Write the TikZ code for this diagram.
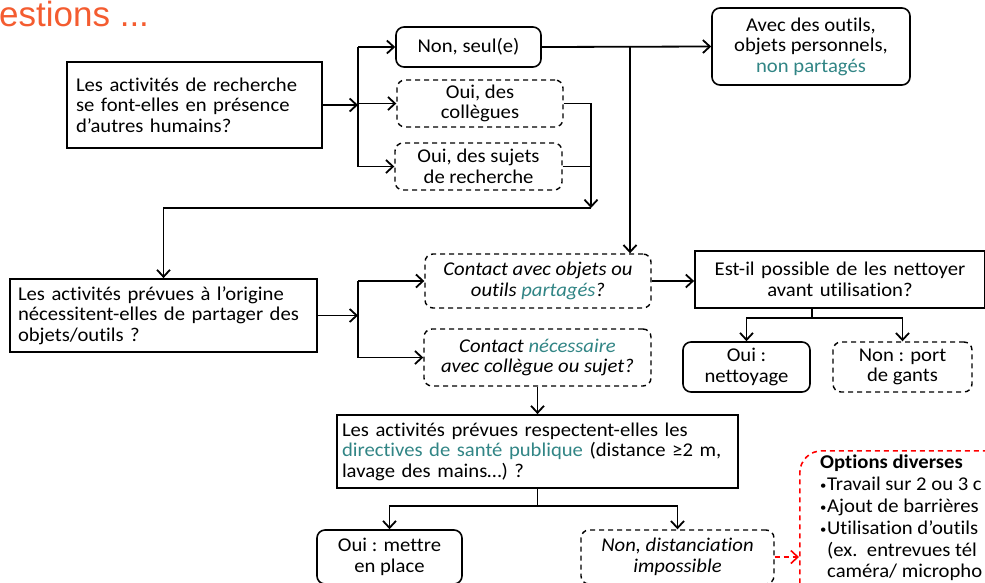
\documentclass[tikz,border=0pt]{standalone}
\usepackage{fontspec}
\setmainfont{Carlito}[FakeStretch=1.06, Ligatures=NoCommon]
\newfontfamily\titleFont{Liberation Sans}
\usetikzlibrary{arrows.meta}
\definecolor{connectorLineColor}{RGB}{0,0,0}
\definecolor{tealTextColor}{RGB}{49,133,133}
\definecolor{titleTextColor}{RGB}{244,92,48}
\definecolor{optionLineColor}{RGB}{255,0,0}
\newcommand{\optionBullet}{\makebox[7pt][l]{\raisebox{1pt}{\fontsize{12}{12}\selectfont•}}}
\tikzset{
	questionBox/.style = {
		draw, line width=1.8pt, inner xsep=9pt, inner ysep=0pt, align=left,
		font=\fontsize{19.5}{20.5}\selectfont
	},
	answerBox/.style = {
		draw, line width=1.6pt, rounded corners=8pt, inner sep=0pt, align=center,
		font=\fontsize{19.5}{20.5}\selectfont
	},
	dashedAnswer/.style = {
		answerBox, line width=1.4pt, dash pattern=on 5pt off 4pt
	},
	italicAnswer/.style = {
		dashedAnswer, font=\fontsize{19.5}{20.5}\selectfont\itshape
	},
	connectorLine/.style = {
		line width=1.8pt, draw = connectorLineColor
	},
	optionLine/.style = {
		line width=1.6pt, draw = optionLineColor, dash pattern=on 5pt off 4pt
	}
}

\begin{document}
\begin{tikzpicture}[x=1pt, y=-1pt, >={Straight Barb[length=7pt,width=13pt]}]
	\clip (0,0) rectangle (985,582);

	\node [anchor=base west, inner sep=0pt, text=titleTextColor, font=\titleFont\fontsize{35}{35}\selectfont] (title) at (-1,26) {estions ...};

	% first question
	\node [questionBox, text width=237pt, minimum height=86pt] (humains) at (194.5,105) {Les activités de recherche\\se font-elles en présence\\d’autres humains?};
	\node [answerBox, minimum width=145pt, minimum height=40pt] (nonSeul) at (468.5,47) {Non, seul(e)};
	\node [dashedAnswer, minimum width=166pt, minimum height=47pt] (ouiCollegues) at (480,103.5) {Oui, des\\collègues};
	\node [dashedAnswer, minimum width=167pt, minimum height=47pt] (ouiSujets) at (478.5,166.5) {Oui, des sujets\\de recherche};
	\node [answerBox, minimum width=198pt, minimum height=77pt] (avecOutils) at (811,46.5) {Avec des outils,\\objets personnels,\\\textcolor{tealTextColor}{non partagés}};

	% second question
	\node [questionBox, text width=291pt, inner xsep=8pt, minimum height=73pt] (partager) at (163.5,315.5) {Les activités prévues à l’origine\\nécessitent-elles de partager des\\objets/outils ?};
	\node [italicAnswer, minimum width=226pt, minimum height=54pt] (contactObjets) at (538,281) {Contact avec objets ou\\outils \textcolor{tealTextColor}{partagés}?};
	\node [italicAnswer, minimum width=227pt, minimum height=57pt] (contactNecessaire) at (537.5,357.5) {Contact \textcolor{tealTextColor}{nécessaire}\\avec collègue ou sujet?};
	\node [questionBox, align=center, text width=272pt, minimum height=57pt] (nettoyer) at (840,279.5) {Est-il possible de les nettoyer\\avant utilisation?};
	\node [answerBox, minimum width=127pt, minimum height=50pt] (ouiNettoyage) at (746.5,367) {Oui :\\nettoyage};
	\node [dashedAnswer, minimum width=139pt, minimum height=50pt] (nonGants) at (902.5,367) {Non : port\\de gants};

	% third question
	\node [questionBox, text width=391pt, inner xsep=5pt, minimum height=73pt] (directives) at (537.5,451.5) {Les activités prévues respectent-elles les\\\textcolor{tealTextColor}{directives de santé publique} (distance ≥2 m,\\lavage des mains…) ?};
	\node [answerBox, minimum width=145pt, minimum height=54pt] (ouiPlace) at (389.5,557) {Oui : mettre\\en place};
	\node [italicAnswer, minimum width=193pt, minimum height=54pt] (nonDistance) at (677.5,557) {Non, distanciation\\impossible};

	\node [draw=optionLineColor, line width=1.6pt, dash pattern=on 5pt off 4pt, rounded corners=22pt, anchor=north west, minimum width=300pt, minimum height=200pt] (optionsBox) at (799,450) {};
	\node [anchor=north west, inner sep=0pt, align=left, font=\fontsize{19.5}{21.8}\selectfont] (optionsText) at (820,455) {\textbf{Options diverses}\\\optionBullet Travail sur 2 ou 3 c\\\optionBullet Ajout de barrières\\\optionBullet Utilisation d’outils\\\hspace*{7pt}(ex.\ \ entrevues tél\\\hspace*{7pt}caméra/ micropho};

	\coordinate (splitHumains) at (358,105);
	\coordinate (joinSeul) at (630,47);
	\coordinate (mergeOui) at (591,208);
	\coordinate (splitPartager) at (358,316);
	\coordinate (splitNettoyer) at (812,318);
	\coordinate (splitDirectives) at (537.5,506);

	\draw [->, connectorLine] (humains.east) -- (splitHumains);
	\draw [connectorLine] (splitHumains |- nonSeul.west) -- (splitHumains |- ouiSujets.west);
	\draw [->, connectorLine] (splitHumains |- nonSeul.west) -- (nonSeul.west);
	\draw [->, connectorLine] (splitHumains |- ouiCollegues.west) -- (ouiCollegues.west);
	\draw [->, connectorLine] (splitHumains |- ouiSujets.west) -- (ouiSujets.west);

	\draw [->, connectorLine] (nonSeul.east) -- (avecOutils.west);
	\draw [->, connectorLine] (joinSeul) -- (joinSeul |- contactObjets.north);
	\draw [->, connectorLine] (ouiCollegues.east) -| (mergeOui);
	\draw [connectorLine] (ouiSujets.east) -- (ouiSujets.east -| mergeOui);
	\draw [->, connectorLine] (mergeOui) -| (partager.north);

	\draw [->, connectorLine] (partager.east) -- (partager.east -| splitPartager);
	\draw [connectorLine] (splitPartager |- contactObjets.west) -- (splitPartager |- contactNecessaire.west);
	\draw [->, connectorLine] (splitPartager |- contactObjets.west) -- (contactObjets.west);
	\draw [->, connectorLine] (splitPartager |- contactNecessaire.west) -- (contactNecessaire.west);

	\draw [->, connectorLine] (contactObjets.east) -- (contactObjets.east -| nettoyer.west);
	\draw [connectorLine] (splitNettoyer |- nettoyer.south) -- (splitNettoyer);
	\draw [->, connectorLine] (splitNettoyer) -| (ouiNettoyage.north);
	\draw [->, connectorLine] (splitNettoyer) -| (nonGants.north);

	\draw [->, connectorLine] (contactNecessaire.south) -- (directives.north);
	\draw [connectorLine] (directives.south) -- (splitDirectives);
	\draw [->, connectorLine] (splitDirectives) -| (ouiPlace.north);
	\draw [->, connectorLine] (splitDirectives) -| (nonDistance.north);

	\draw [->, optionLine] (nonDistance.east) -- (nonDistance.east -| optionsBox.west);
\end{tikzpicture}
\end{document}
